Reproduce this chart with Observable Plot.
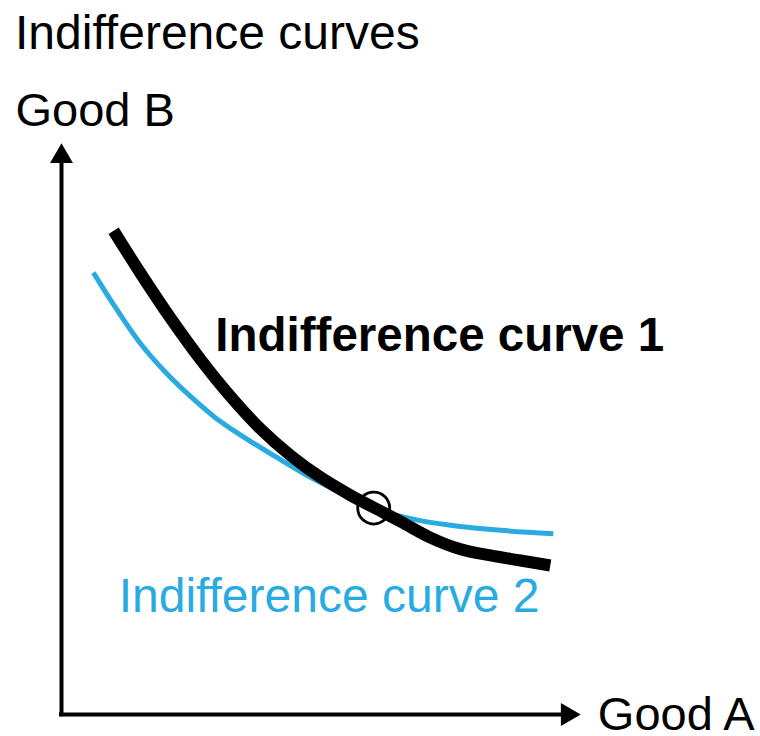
<!DOCTYPE html>
<html>
<head>
<meta charset="utf-8">
<script src="https://cdn.jsdelivr.net/npm/d3@7"></script>
<script src="https://cdn.jsdelivr.net/npm/@observablehq/plot@0.6"></script>
<style>
  html, body { margin: 0; padding: 0; background: #fff; }
  body { width: 760px; height: 736px; overflow: hidden; font-family: "Liberation Sans", Arial, sans-serif; }
  #title { font-size: 48px; line-height: 62px; height: 62px; padding-top: 2px; padding-left: 15px; color: #000; white-space: nowrap; }
  svg { display: block; overflow: visible; }
</style>
</head>
<body>
<div id="title">Indifference curves</div>
<div id="chart"></div>
<script>
// Curve 1 (black, thick)
const curve1X = [1.03, 1.56, 2.15, 2.75, 3.34, 3.93, 4.53, 5.12, 5.71, 6.17, 6.70, 7.29, 7.89, 8.48, 9.07, 9.66];
const curve1Y = [8.67, 7.91, 7.11, 6.36, 5.70, 5.12, 4.64, 4.25, 3.93, 3.71, 3.46, 3.17, 2.96, 2.85, 2.76, 2.67];
// Curve 2 (blue, thin)
const curve2X = [0.63, 1.07, 1.56, 2.06, 2.55, 3.04, 3.64, 4.23, 4.92, 5.51, 6.17, 6.90, 7.69, 8.68, 9.72];
const curve2Y = [7.92, 7.29, 6.65, 6.13, 5.70, 5.32, 4.95, 4.62, 4.25, 3.98, 3.69, 3.51, 3.39, 3.30, 3.24];
// Tangency point
const pointX = [6.17];
const pointY = [3.70];
// Labels
const labelNames = ["Indifference curve 1", "Indifference curve 2"];
const axisNames = ["Good A", "Good B"];

const curve1 = curve1X.map((x, i) => ({x, y: curve1Y[i]}));
const curve2 = curve2X.map((x, i) => ({x, y: curve2Y[i]}));
const point = pointX.map((x, i) => ({x, y: pointY[i]}));

const chart = Plot.plot({
  width: 760,
  height: 672,
  margin: 0,
  style: {fontFamily: "'Liberation Sans', Arial, sans-serif", background: "#fff", overflow: "visible"},
  x: {domain: [0, 10], range: [61, 567], axis: null},
  y: {domain: [0, 10], range: [650, 92], axis: null},
  marks: [
    // axes
    Plot.ruleX([0], {y1: -0.04, y2: 10, stroke: "black", strokeWidth: 4}),
    Plot.ruleY([0], {x1: -0.04, x2: 10, stroke: "black", strokeWidth: 4}),
    Plot.dot([{x: 0, y: 10}], {x: "x", y: "y", symbol: "triangle", r: 8.5, fill: "black", stroke: "none"}),
    Plot.dot([{x: 10, y: 0}], {x: "x", y: "y", symbol: "triangle", r: 8.5, fill: "black", stroke: "none", rotate: 90}),
    // curves
    Plot.line(curve2, {x: "x", y: "y", stroke: "#29abe2", strokeWidth: 5, curve: "catmull-rom", strokeLinecap: "butt"}),
    Plot.line(curve1, {x: "x", y: "y", stroke: "black", strokeWidth: 12, curve: "catmull-rom", strokeLinecap: "butt"}),
    Plot.dot(point, {x: "x", y: "y", r: 16, stroke: "black", strokeWidth: 2.8, fill: "none"}),
    // labels
    Plot.text([labelNames[0]], {x: 3.04, y: 6.52, text: d => d, textAnchor: "start", lineAnchor: "bottom", fontSize: 47.5, fontWeight: "bold", fill: "black"}),
    Plot.text([labelNames[1]], {x: 1.13, y: 1.83, text: d => d, textAnchor: "start", lineAnchor: "bottom", fontSize: 48, fill: "#29abe2"}),
    Plot.text([axisNames[0]], {x: 10.6, y: -0.27, text: d => d, textAnchor: "start", lineAnchor: "bottom", fontSize: 47, fill: "black"}),
    Plot.text([axisNames[1]], {x: -0.91, y: 10.54, text: d => d, textAnchor: "start", lineAnchor: "bottom", fontSize: 47, fill: "black"})
  ]
});
document.getElementById("chart").appendChild(chart);
</script>
</body>
</html>
